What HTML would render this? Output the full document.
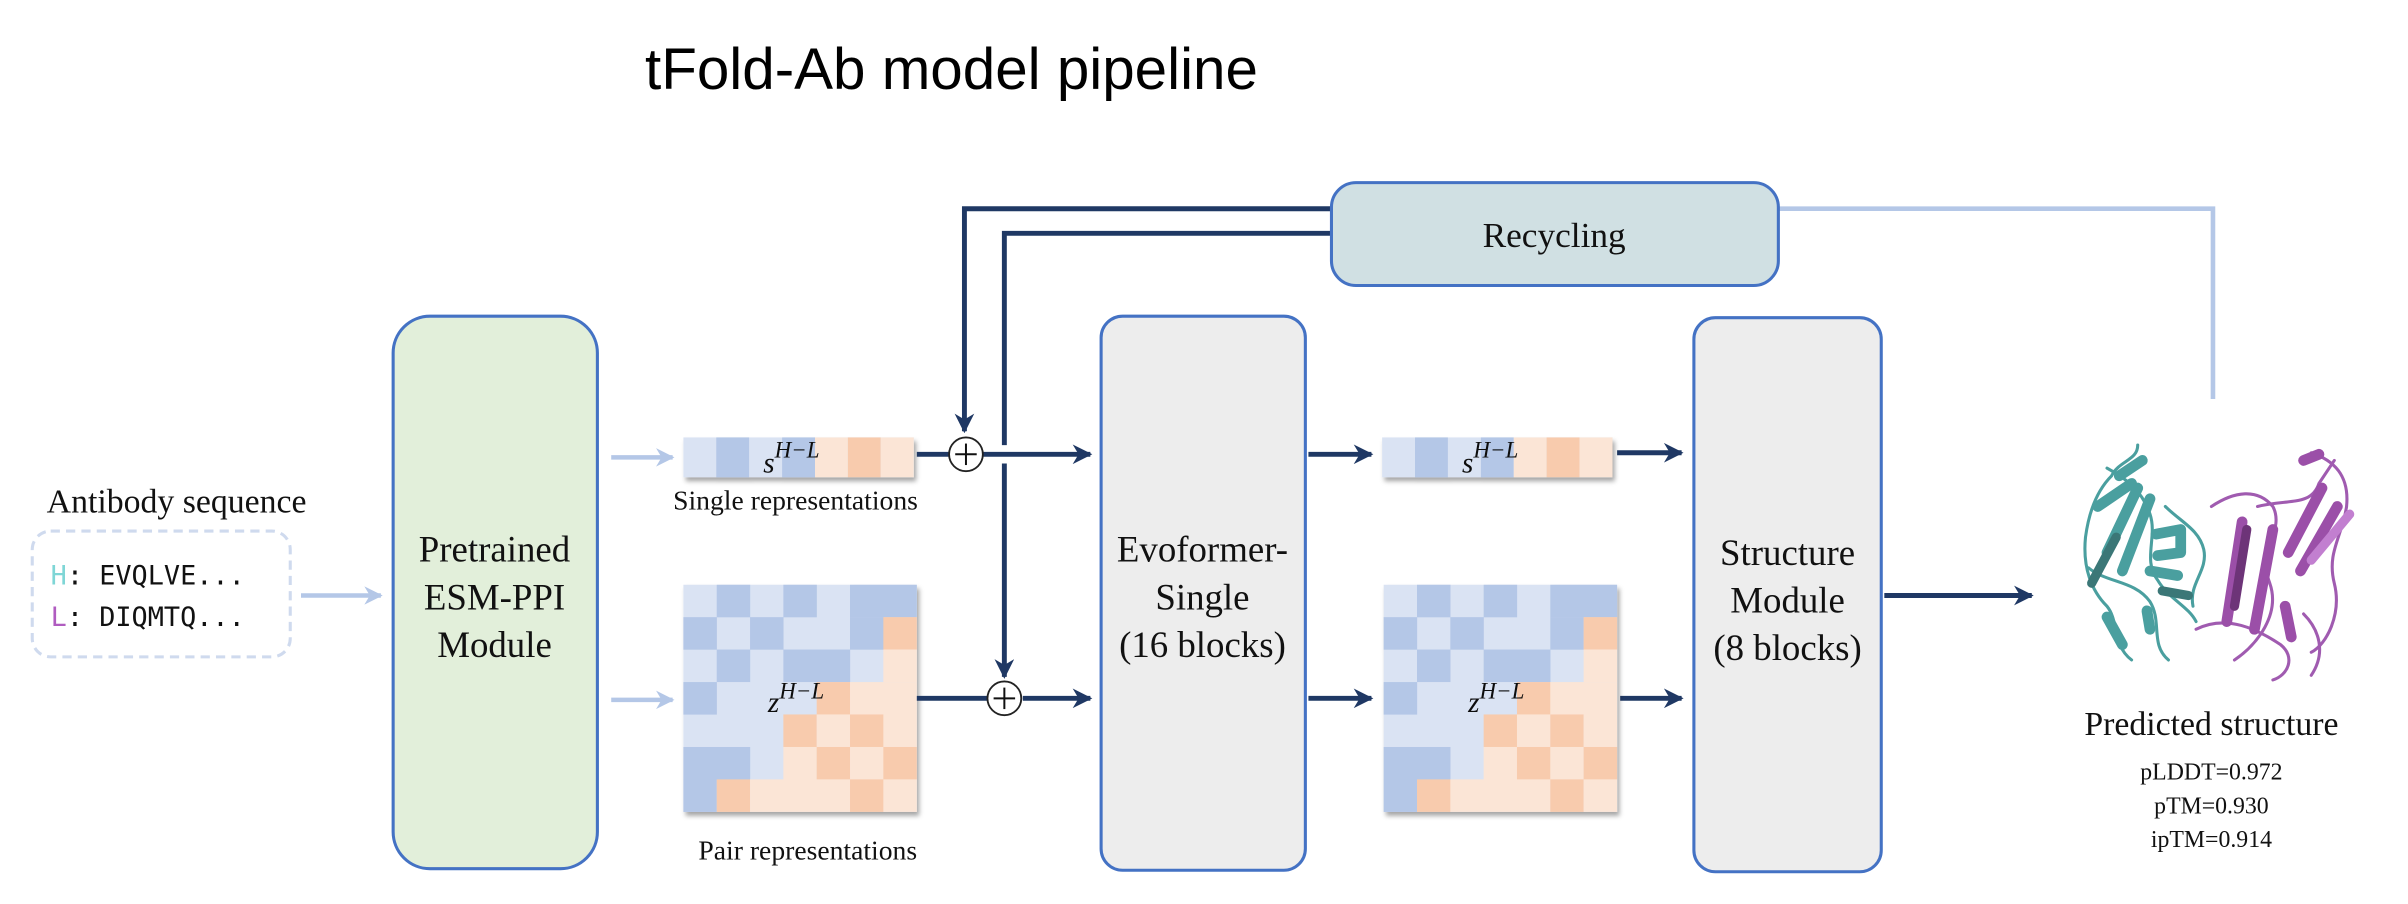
<!DOCTYPE html>
<html><head><meta charset="utf-8"><style>
html,body{margin:0;padding:0;background:#fff;}
svg{display:block;}
</style></head><body>
<svg width="2408" height="904" viewBox="0 0 1568 589" preserveAspectRatio="none" xmlns="http://www.w3.org/2000/svg">
<defs>
<marker id="ad" viewBox="0 0 10 10" refX="9" refY="5" markerWidth="4" markerHeight="4" orient="auto"><path d="M0,0 L10,5 L0,10 L3,5 z" fill="#1f3864"/></marker>
<marker id="al" viewBox="0 0 10 10" refX="9" refY="5" markerWidth="4" markerHeight="4" orient="auto"><path d="M0,0 L10,5 L0,10 L3,5 z" fill="#b4c7e7"/></marker>
<filter id="sh" x="-10%" y="-10%" width="130%" height="140%"><feDropShadow dx="1.5" dy="2.5" stdDeviation="1.5" flood-color="#000" flood-opacity="0.35"/></filter>
<g id="mat">
<rect x="0" y="0" width="152" height="148" fill="#dae3f3"/>
<rect x="21.7" y="0" width="21.8" height="21.2" fill="#b4c7e7"/><rect x="65.1" y="0" width="21.8" height="21.2" fill="#b4c7e7"/><rect x="108.5" y="0" width="43.5" height="21.2" fill="#b4c7e7"/>
<rect x="0" y="21.1" width="21.8" height="21.2" fill="#b4c7e7"/><rect x="43.4" y="21.1" width="21.8" height="21.2" fill="#b4c7e7"/><rect x="108.5" y="21.1" width="21.8" height="21.2" fill="#b4c7e7"/><rect x="130.2" y="21.1" width="21.8" height="21.2" fill="#f8cbad"/>
<rect x="21.7" y="42.2" width="21.8" height="21.2" fill="#b4c7e7"/><rect x="65.1" y="42.2" width="43.5" height="21.2" fill="#b4c7e7"/><rect x="130.2" y="42.2" width="21.8" height="21.2" fill="#fbe5d6"/>
<rect x="0" y="63.4" width="21.8" height="21.2" fill="#b4c7e7"/><rect x="86.8" y="63.4" width="21.8" height="21.2" fill="#f8cbad"/><rect x="108.5" y="63.4" width="43.5" height="21.2" fill="#fbe5d6"/>
<rect x="65.1" y="84.5" width="21.8" height="21.2" fill="#f8cbad"/><rect x="86.8" y="84.5" width="21.8" height="21.2" fill="#fbe5d6"/><rect x="108.5" y="84.5" width="21.8" height="21.2" fill="#f8cbad"/><rect x="130.2" y="84.5" width="21.8" height="21.2" fill="#fbe5d6"/>
<rect x="0" y="105.7" width="43.5" height="21.2" fill="#b4c7e7"/><rect x="65.1" y="105.7" width="21.8" height="21.2" fill="#fbe5d6"/><rect x="86.8" y="105.7" width="21.8" height="21.2" fill="#f8cbad"/><rect x="108.5" y="105.7" width="21.8" height="21.2" fill="#fbe5d6"/><rect x="130.2" y="105.7" width="21.8" height="21.2" fill="#f8cbad"/>
<rect x="0" y="126.8" width="21.8" height="21.2" fill="#b4c7e7"/><rect x="21.7" y="126.8" width="21.8" height="21.2" fill="#f8cbad"/><rect x="43.4" y="126.8" width="65.2" height="21.2" fill="#fbe5d6"/><rect x="108.5" y="126.8" width="21.8" height="21.2" fill="#f8cbad"/><rect x="130.2" y="126.8" width="21.8" height="21.2" fill="#fbe5d6"/>
<text x="55" y="83" font-family="Liberation Serif, serif" font-style="italic" font-size="19" fill="#111">z<tspan dy="-9" font-size="15">H−L</tspan></text>
</g>
<g id="bar">
<rect x="0" y="0" width="150" height="26" fill="#dae3f3"/>
<rect x="21.4" y="0" width="21.4" height="26" fill="#b4c7e7"/>
<rect x="64.3" y="0" width="21.4" height="26" fill="#b4c7e7"/>
<rect x="85.7" y="0" width="21.4" height="26" fill="#fbe5d6"/>
<rect x="107.1" y="0" width="21.4" height="26" fill="#f8cbad"/>
<rect x="128.5" y="0" width="21.5" height="26" fill="#fbe5d6"/>
<text x="52" y="23" font-family="Liberation Serif, serif" font-style="italic" font-size="19" fill="#111">s<tspan dy="-10" font-size="15">H−L</tspan></text>
</g>
</defs>

<text x="420" y="58" font-family="Liberation Sans, sans-serif" font-size="38" fill="#000">tFold-Ab model pipeline</text>

<text x="115" y="334" text-anchor="middle" font-family="Liberation Serif, serif" font-size="22" fill="#111">Antibody sequence</text>
<rect x="21" y="346" width="168" height="82" rx="12" fill="none" stroke="#cfdaee" stroke-width="2" stroke-dasharray="6,4"/>
<text x="33" y="381" font-family="DejaVu Sans Mono, Liberation Mono, monospace" font-size="17.5" fill="#111"><tspan fill="#7fd6d6">H</tspan>: EVQLVE...</text>
<text x="33" y="408" font-family="DejaVu Sans Mono, Liberation Mono, monospace" font-size="17.5" fill="#111"><tspan fill="#b05cc0">L</tspan>: DIQMTQ...</text>
<line x1="196" y1="388" x2="248" y2="388" stroke="#b4c7e7" stroke-width="3" marker-end="url(#al)"/>

<rect x="256" y="206" width="133" height="360" rx="24" fill="#e2efda" stroke="#4472c4" stroke-width="2"/>
<g font-family="Liberation Serif, serif" font-size="24" fill="#111" text-anchor="middle">
<text x="322" y="366">Pretrained</text><text x="322" y="397">ESM-PPI</text><text x="322" y="428">Module</text>
</g>

<line x1="398" y1="298" x2="438" y2="298" stroke="#b4c7e7" stroke-width="3" marker-end="url(#al)"/>
<line x1="398" y1="456" x2="438" y2="456" stroke="#b4c7e7" stroke-width="3" marker-end="url(#al)"/>

<use href="#bar" x="445" y="285" filter="url(#sh)"/>
<text x="518" y="332" text-anchor="middle" font-family="Liberation Serif, serif" font-size="18" fill="#111">Single representations</text>
<use href="#mat" x="445" y="381" filter="url(#sh)"/>
<text x="526" y="560" text-anchor="middle" font-family="Liberation Serif, serif" font-size="18" fill="#111">Pair representations</text>

<g stroke="#1f3864" stroke-width="3.2" fill="none">
<polyline points="868,136 628,136 628,281" marker-end="url(#ad)"/>
<polyline points="868,152 654,152 654,290"/>
<polyline points="654,302 654,441" marker-end="url(#ad)"/>
<line x1="597" y1="296" x2="618" y2="296"/>
<line x1="640" y1="296" x2="710" y2="296" marker-end="url(#ad)"/>
<line x1="597" y1="455" x2="643" y2="455"/>
<line x1="666" y1="455" x2="710" y2="455" marker-end="url(#ad)"/>
<line x1="852" y1="296" x2="893" y2="296" marker-end="url(#ad)"/>
<line x1="852" y1="455" x2="893" y2="455" marker-end="url(#ad)"/>
<line x1="1053" y1="295" x2="1095" y2="295" marker-end="url(#ad)"/>
<line x1="1055" y1="455" x2="1095" y2="455" marker-end="url(#ad)"/>
<line x1="1227" y1="388" x2="1323" y2="388" marker-end="url(#ad)"/>
</g>
<g stroke="#222" stroke-width="1.2" fill="#fff">
<circle cx="629" cy="296" r="11"/><circle cx="654" cy="455" r="11"/>
</g>
<g stroke="#111" stroke-width="1.3">
<line x1="622" y1="296" x2="636" y2="296"/><line x1="629" y1="289" x2="629" y2="303"/>
<line x1="647" y1="455" x2="661" y2="455"/><line x1="654" y1="448" x2="654" y2="462"/>
</g>

<polyline points="1158,136 1441,136 1441,260" fill="none" stroke="#b4c7e7" stroke-width="3"/>
<rect x="867" y="119" width="291" height="67" rx="16" fill="#d0e0e3" stroke="#4472c4" stroke-width="2"/>
<text x="1012" y="161" text-anchor="middle" font-family="Liberation Serif, serif" font-size="23" fill="#111">Recycling</text>

<rect x="717" y="206" width="133" height="361" rx="14" fill="#ededed" stroke="#4472c4" stroke-width="2"/>
<g font-family="Liberation Serif, serif" font-size="24" fill="#111" text-anchor="middle">
<text x="783" y="366">Evoformer-</text><text x="783" y="397">Single</text><text x="783" y="428">(16 blocks)</text>
</g>

<use href="#bar" x="900" y="285" filter="url(#sh)"/>
<use href="#mat" x="901" y="381" filter="url(#sh)"/>

<rect x="1103" y="207" width="122" height="361" rx="14" fill="#ededed" stroke="#4472c4" stroke-width="2"/>
<g font-family="Liberation Serif, serif" font-size="24" fill="#111" text-anchor="middle">
<text x="1164" y="368">Structure</text><text x="1164" y="399">Module</text><text x="1164" y="430">(8 blocks)</text>
</g>

<g fill="none" stroke-linecap="round" stroke-linejoin="round">
<g stroke="#4a9f9f" stroke-width="2">
<path d="M1392,290 C1392,300 1380,300 1375,310 C1365,320 1360,335 1358,350 C1356,370 1362,385 1372,395 C1380,405 1375,420 1388,430"/>
<path d="M1372,305 C1385,312 1395,320 1400,335 C1405,350 1395,365 1405,378 C1412,390 1425,395 1430,405"/>
<path d="M1410,330 C1420,340 1432,345 1435,358 C1438,372 1425,380 1428,395"/>
<path d="M1360,370 C1372,380 1390,378 1400,392 C1408,405 1400,420 1412,430"/>
</g>
<g stroke="#4a9f9f" stroke-width="7">
<path d="M1380,310 L1395,300"/><path d="M1366,330 L1388,315"/><path d="M1372,360 L1392,318"/><path d="M1382,372 L1400,325"/>
<path d="M1404,348 L1420,345 L1420,360 L1405,362"/><path d="M1400,372 L1418,375"/><path d="M1372,402 L1382,420"/><path d="M1398,398 L1400,410"/>
</g>
<g stroke="#3b7777" stroke-width="6"><path d="M1362,380 L1378,350"/><path d="M1408,385 L1425,388"/></g>
<g stroke="#a05bb0" stroke-width="2">
<path d="M1505,295 C1520,300 1530,310 1528,330 C1525,350 1515,360 1520,380 C1525,400 1515,420 1505,425"/>
<path d="M1440,330 C1455,320 1470,318 1480,330 C1488,345 1470,360 1478,380 C1485,400 1470,420 1455,430"/>
<path d="M1430,410 C1450,400 1470,410 1485,420 C1495,428 1490,440 1480,443"/>
<path d="M1470,330 C1490,325 1505,330 1510,315 L1520,300"/>
<path d="M1500,400 C1510,410 1515,425 1505,440"/>
</g>
<g stroke="#9b4fa8" stroke-width="7">
<path d="M1450,405 L1460,340"/><path d="M1468,410 L1480,345"/><path d="M1490,360 L1512,318"/><path d="M1498,372 L1522,330"/><path d="M1500,300 L1510,296"/><path d="M1488,395 L1492,415"/>
</g>
<g stroke="#6d3478" stroke-width="6"><path d="M1455,395 L1463,345"/></g>
<g stroke="#c27fd0" stroke-width="6"><path d="M1505,365 L1530,335"/></g>
</g>

<text x="1440" y="479" text-anchor="middle" font-family="Liberation Serif, serif" font-size="22" fill="#111">Predicted structure</text>
<g font-family="Liberation Serif, serif" font-size="15.5" fill="#111" text-anchor="middle">
<text x="1440" y="508">pLDDT=0.972</text><text x="1440" y="530">pTM=0.930</text><text x="1440" y="552">ipTM=0.914</text>
</g>
</svg>
</body></html>
